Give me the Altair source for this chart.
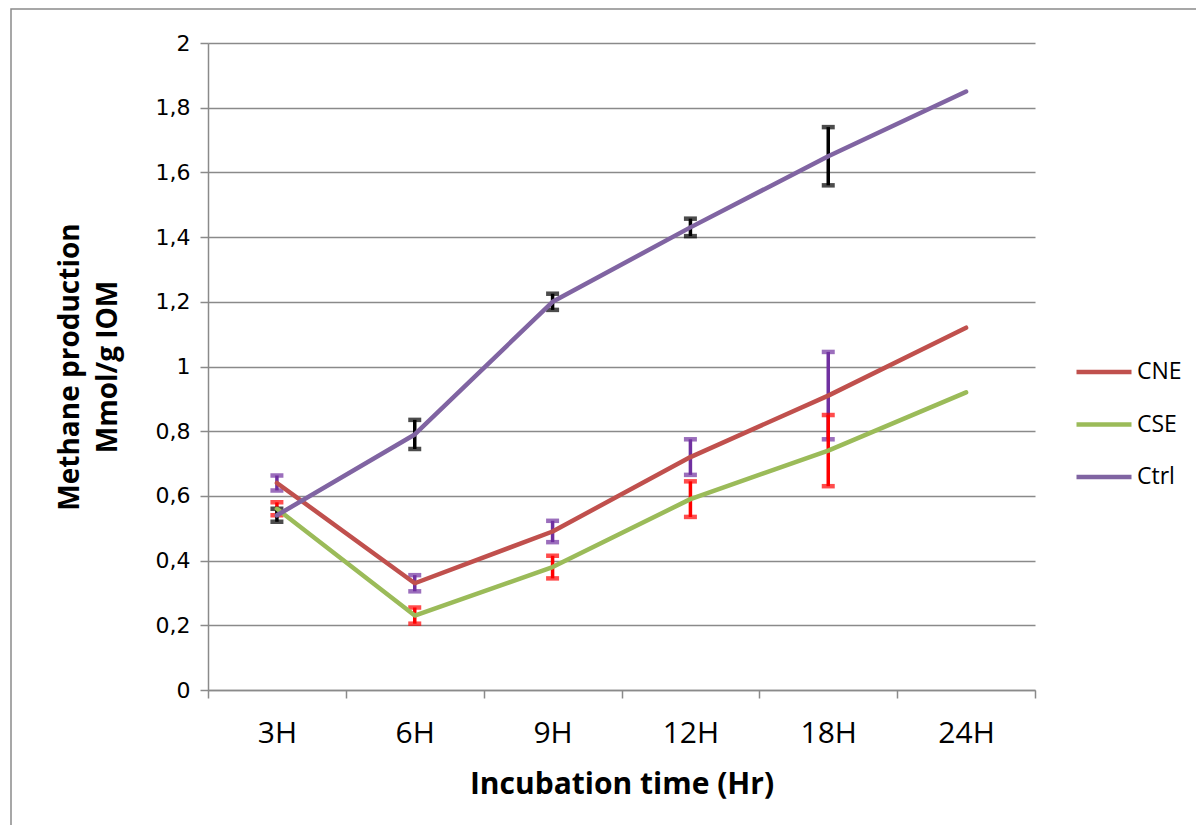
import altair as alt
import pandas as pd

times = ["3H", "6H", "9H", "12H", "18H", "24H"]
series = ["CNE", "CSE", "Ctrl"]

cne = [0.64, 0.33, 0.49, 0.72, 0.91, 1.12]
cse = [0.56, 0.23, 0.38, 0.59, 0.74, 0.92]
ctrl = [0.54, 0.79, 1.20, 1.43, 1.65, 1.85]

cne_err = [0.023, 0.025, 0.033, 0.055, 0.135, None]
cse_err = [0.02, 0.025, 0.035, 0.055, 0.11, None]
ctrl_err = [0.02, 0.045, 0.025, 0.027, 0.09, None]

line_colors = ["#C0504D", "#9BBB59", "#8064A2"]
bar_colors = {"CNE": "#7030A0", "CSE": "#FF0000", "Ctrl": "#000000"}

FONT = "Comic Sans MS, Open Sans, DejaVu Sans"
NUMFONT = "DejaVu Sans"
GRID = "#8a8a8a"

rows = []
for name, vals, errs in [("CNE", cne, cne_err), ("CSE", cse, cse_err), ("Ctrl", ctrl, ctrl_err)]:
    for t, v, e in zip(times, vals, errs):
        rows.append({"series": name, "time": t, "value": v,
                     "low": (v - e) if e is not None else None,
                     "high": (v + e) if e is not None else None})
df = pd.DataFrame(rows)

W, H = 827, 647

xenc = alt.X("time:N", sort=times, scale=alt.Scale(paddingInner=0, paddingOuter=0),
             axis=alt.Axis(title="Incubation time (Hr)", grid=False, tickBand="extent",
                           labelAngle=0, labelFontSize=30, labelFont=FONT, labelColor="#000",
                           labelPadding=20, tickSize=8, tickColor=GRID, tickWidth=1.5,
                           domainColor=GRID, domainWidth=1.5,
                           titleFont=FONT, titleFontSize=30, titleFontWeight="bold",
                           titleColor="#000", titlePadding=21))

yscale = alt.Scale(domain=[0, 2], nice=False)
yaxis = alt.Axis(title=["Methane production", "Mmol/g IOM"],
                 values=[0, 0.2, 0.4, 0.6, 0.8, 1.0, 1.2, 1.4, 1.6, 1.8, 2.0],
                 labelExpr="replace(format(datum.value, '.1~f'), '.', ',')",
                 grid=True, gridColor=GRID, gridWidth=1.5,
                 domainColor=GRID, domainWidth=1.5, tickColor=GRID, tickWidth=1.5, tickSize=8,
                 labelFontSize=22, labelFont=NUMFONT, labelColor="#000", labelPadding=10,
                 titleFont=FONT, titleFontSize=28, titleFontWeight="bold", titleColor="#000",
                 titlePadding=33, titleLineHeight=38)

border = alt.Chart(pd.DataFrame({"a": [0]})).mark_rect(
    fillOpacity=0, stroke="#8a8a8a", strokeWidth=1.5
).encode(x=alt.value(-197), x2=alt.value(1300), y=alt.value(-34), y2=alt.value(1000))

layers = [border]
for s in series:
    sub = df[(df.series == s) & df.low.notna()]
    base = alt.Chart(sub)
    rule = base.mark_rule(strokeWidth=3.5, color=bar_colors[s]).encode(
        x=xenc, y=alt.Y("low:Q", scale=yscale, axis=yaxis), y2="high:Q")
    caplo = base.mark_tick(size=13, thickness=4.5, color=bar_colors[s]).encode(
        x=xenc, y=alt.Y("low:Q", scale=yscale, axis=yaxis))
    caphi = base.mark_tick(size=13, thickness=4.5, color=bar_colors[s]).encode(
        x=xenc, y=alt.Y("high:Q", scale=yscale, axis=yaxis))
    layers += [rule, caplo, caphi]

lines = alt.Chart(df).mark_line(strokeWidth=4.5, strokeCap="round", strokeJoin="round").encode(
    x=xenc,
    y=alt.Y("value:Q", scale=yscale, axis=yaxis),
    color=alt.Color("series:N", scale=alt.Scale(domain=series, range=line_colors),
                    legend=alt.Legend(title=None, orient="none", legendX=866, legendY=299,
                                      symbolType="stroke", symbolSize=3025, symbolStrokeWidth=4.5,
                                      labelFontSize=23, labelFont=FONT, labelColor="#000",
                                      labelOffset=3, rowPadding=10.5, padding=0)),
    detail="series:N",
)
layers.append(lines)

chart = alt.layer(*layers).properties(
    width=W, height=H,
    padding={"left": 200, "top": 35, "right": 161, "bottom": 135},
    autosize=alt.AutoSizeParams(type="none"),
    background="white",
).configure_view(stroke=None)

chart.save("out.html", embed_options={"renderer": "svg", "actions": False})
